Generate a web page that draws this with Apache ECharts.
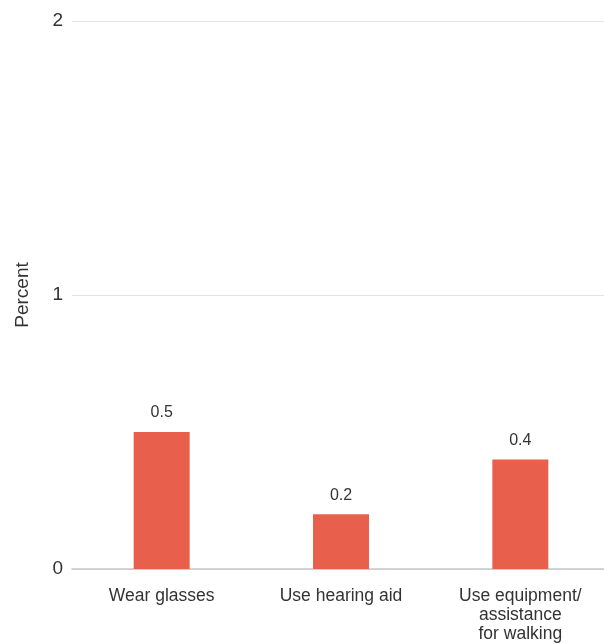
<!DOCTYPE html>
<html><head><meta charset="utf-8">
<script src="https://cdn.jsdelivr.net/npm/echarts@6/dist/echarts.min.js"></script>
<style>html,body{margin:0;padding:0;background:#fff;overflow:hidden}#wrap{width:604px;height:644px;overflow:hidden;position:relative}#c{width:610px;height:644px;position:absolute;left:0;top:0}</style>
</head><body><div id="wrap"><div id="c"></div></div>
<script>
const categories = ['Wear glasses', 'Use hearing aid', 'Use equipment/\nassistance\nfor walking'];
const values = [0.5, 0.2, 0.4];
const yTicks = [0, 1, 2];
const font = '"Liberation Sans", Arial, sans-serif';
const chart = echarts.init(document.getElementById('c'), null, {renderer: 'canvas', width: 610, height: 644});
chart.setOption({
  animation: false,
  grid: {left: 72, width: 538, top: 21, height: 550, containLabel: false},
  xAxis: {
    type: 'category', data: categories,
    axisLine: {lineStyle: {color: '#c8c8c8', width: 1.5}},
    axisTick: {show: false},
    axisLabel: {color: '#333', fontSize: 17.5, fontFamily: font, lineHeight: 19, margin: 18, interval: 0}
  },
  yAxis: {
    type: 'value', min: 0, max: 2, interval: 1,
    name: 'Percent', nameLocation: 'middle', nameGap: 40, nameRotate: 90,
    nameTextStyle: {color: '#333', fontSize: 19, fontFamily: font},
    axisLabel: {color: '#333', fontSize: 19, fontFamily: font, margin: 9,
      formatter: v => yTicks.includes(v) ? String(v) : ''},
    splitLine: {lineStyle: {color: '#e3e3e3', width: 1}},
    axisLine: {show: false}, axisTick: {show: false}
  },
  series: [{
    type: 'bar', data: values, barWidth: 56,
    itemStyle: {color: '#E8604C'},
    label: {show: true, position: 'top', distance: 11, color: '#333', fontSize: 16, fontFamily: font}
  }]
});
</script></body></html>
